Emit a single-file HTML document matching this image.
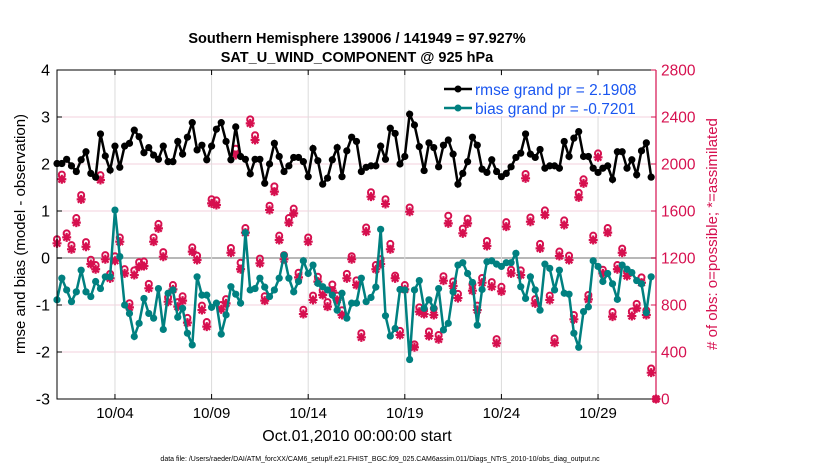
<!DOCTYPE html>
<html><head><meta charset="utf-8"><style>
body{margin:0;background:#fff;}
svg{display:block;font-family:"Liberation Sans",sans-serif;}
</style></head><body>
<svg id="chart" width="830" height="470" viewBox="0 0 830 470">
<rect x="0" y="0" width="830" height="470" fill="#fff"/>
<g id="grid"></g>
<g id="series"></g>
<g id="axes"></g>
<text x="357" y="43" text-anchor="middle" font-size="14.5" font-weight="bold">Southern Hemisphere 139006 / 141949 = 97.927%</text>
<text x="357" y="62" text-anchor="middle" font-size="14.5" font-weight="bold">SAT_U_WIND_COMPONENT @ 925 hPa</text>
<text transform="translate(25,234) rotate(-90)" text-anchor="middle" font-size="15">rmse and bias (model - observation)</text>
<text transform="translate(717,234) rotate(-90)" text-anchor="middle" font-size="15" fill="#d6104f"># of obs: o=possible; *=assimilated</text>
<text x="357" y="441" text-anchor="middle" font-size="16">Oct.01,2010 00:00:00 start</text>
<text x="380" y="461" text-anchor="middle" font-size="7">data file: /Users/raeder/DAI/ATM_forcXX/CAM6_setup/f.e21.FHIST_BGC.f09_025.CAM6assim.011/Diags_NTrS_2010-10/obs_diag_output.nc</text>
<g>
<rect x="440" y="76" width="214" height="40" fill="#fff"/>
<line x1="444" y1="89" x2="472" y2="89" stroke="#000" stroke-width="2.5"/>
<circle cx="458" cy="89" r="3.5" fill="#000"/>
<text x="475" y="95" font-size="15.5" fill="#1a56f0">rmse grand pr = 2.1908</text>
<line x1="444" y1="108" x2="472" y2="108" stroke="#008080" stroke-width="2.5"/>
<circle cx="458" cy="108" r="3.5" fill="#008080"/>
<text x="475" y="114" font-size="15.5" fill="#1a56f0">bias grand pr = -0.7201</text>
</g>
</svg>
<script>
const rmse=[2.01,2.01,2.10,1.96,1.84,2.09,2.26,1.80,1.72,2.64,2.17,1.87,2.38,1.93,2.38,2.44,2.72,2.58,2.24,2.35,2.19,2.10,2.38,2.05,2.05,2.48,2.21,2.57,2.88,2.30,2.40,2.09,
2.38,2.74,2.88,2.48,2.09,2.79,2.16,2.10,1.79,2.10,2.10,1.59,2.00,2.44,2.16,1.84,1.96,2.14,2.14,2.05,1.73,2.33,2.07,1.57,1.70,2.09,2.35,1.73,2.28,2.57,2.48,
1.84,1.93,1.96,1.96,2.38,2.10,2.76,2.65,2.00,2.16,3.06,2.83,2.37,1.86,2.45,2.35,1.94,2.40,2.51,2.21,1.57,1.80,2.05,2.57,2.40,1.89,1.82,2.09,1.84,1.73,1.80,
1.94,2.14,2.23,2.64,2.21,2.14,2.31,1.91,1.96,1.96,1.91,2.48,2.16,2.55,2.69,2.16,2.16,1.91,1.82,1.91,1.96,1.67,2.26,2.26,1.91,2.09,1.77,2.28,2.45,1.72];
const bias=[-0.89,-0.43,-0.68,-0.93,-0.72,-0.26,-0.72,-0.82,-0.50,-0.65,-0.40,-0.40,1.02,0.03,-1.00,-1.18,-1.67,-1.39,-0.86,-1.18,-1.28,-0.65,-1.52,-0.75,-0.68,-1.26,-1.07,-1.60,-1.85,-0.40,-0.79,-0.79,
-1.05,-0.96,-1.62,-1.21,-0.61,-0.77,-0.96,0.54,-0.68,-0.65,-0.43,-0.62,-0.82,-0.68,-0.43,0.06,-0.43,-0.72,-0.50,-0.06,-0.33,-0.15,-0.54,-0.61,-0.68,-0.79,-1.11,-0.75,-1.28,-0.96,-0.96,
-0.43,-0.93,-0.84,-0.62,0.61,-1.23,-1.66,-1.50,-0.67,-0.68,-2.16,-0.68,-0.48,-1.07,-0.89,-1.07,-0.65,-1.53,-1.39,-0.72,-0.15,-0.10,-0.33,-0.52,-1.43,-0.67,-0.08,-0.06,-0.13,-0.18,-0.10,
-0.10,0.10,-0.61,-0.86,-0.40,-0.68,-1.11,-0.13,-0.22,-0.68,-0.26,-0.75,-0.77,-1.60,-1.90,-1.14,-1.04,-0.06,-0.18,-0.50,-0.33,-0.55,-0.88,-0.15,-0.24,-0.31,-0.48,-0.55,-1.16,-0.40];
const obsAssim=[1325,1870,1376,1274,1501,1699,1296,1149,1104,1864,1189,1027,1177,1339,1069,780,1055,1126,1132,942,1339,1452,1211,828,933,786,837,650,1254,1183,757,616,
1665,1651,763,814,1245,2077,1104,1416,2346,2204,1155,837,1609,1765,1353,1189,1501,1580,1035,723,1339,843,999,885,786,922,843,715,1027,1189,970,
525,1424,1722,1104,1149,1660,1274,1027,545,933,1594,440,743,723,536,715,508,1007,1495,962,859,1410,1495,922,757,990,1302,956,474,916,1467,
1069,null,1055,1878,1509,814,1282,1566,843,479,1217,1481,1183,678,1716,1835,848,1353,2057,1069,1416,701,1104,1245,1047,706,772,990,715,224,0];
const obsPoss=[1360,1910,1410,1310,1540,1735,1335,1185,1140,1905,1225,1065,1215,1375,1105,815,1095,1165,1170,980,1375,1490,1250,865,970,825,875,690,1290,1220,795,655,
1700,1690,800,850,1285,2130,1160,1455,2380,2245,1195,875,1645,1810,1390,1225,1540,1620,1075,760,1375,880,1040,925,825,975,880,755,1065,1215,1010,
560,1460,1760,1140,1190,1700,1320,1050,580,970,1630,465,780,760,575,770,545,1045,1560,1000,895,1450,1535,975,795,1030,1345,995,510,955,1505,
1100,null,1095,1915,1545,850,1320,1605,880,515,1255,1520,1220,715,1755,1870,885,1390,2090,1100,1455,740,1140,1280,1085,745,810,1035,755,260,0];
const leftTicks=[4,3,2,1,0,-1,-2,-3];
const rightTicks=[0,400,800,1200,1600,2000,2400,2800];
const dateTickDays=[3,8,13,18,23,28];
const dateTickLabels=["10/04","10/09","10/14","10/19","10/24","10/29"];
const stepDays=0.25;

const X0=57,X1=656,Y0=399,Y1=70,DAYS=31;
const xs=t=>X0+(X1-X0)*t/DAYS;
const yl=v=>Y0+(Y1-Y0)*(v+3)/7;
const yr=c=>Y0+(Y1-Y0)*c/2800;
const NS="http://www.w3.org/2000/svg";
function mk(tag,attrs,parent){const e=document.createElementNS(NS,tag);for(const k in attrs)e.setAttribute(k,attrs[k]);parent.appendChild(e);return e;}
const grid=document.getElementById('grid'),ser=document.getElementById('series'),ax=document.getElementById('axes');
const PINK="#d6104f";

leftTicks.forEach(v=>{
  if(v===4||v===-3)return;
  const l=mk('line',{x1:X0,x2:X1,y1:yl(v),y2:yl(v),stroke:v===0?'#b8b8b8':'#f3d2de','stroke-width':v===0?2:1},grid);
  
  
});
dateTickDays.forEach((d,i)=>{
  const l=mk('line',{x1:xs(d),x2:xs(d),y1:Y1,y2:Y0,stroke:'#dcdcdc','stroke-width':1},grid);
  
  
  const tk=mk('line',{x1:xs(d),x2:xs(d),y1:Y0,y2:Y0-5,stroke:'#000'},ax);
  
  
  const tk2=mk('line',{x1:xs(d),x2:xs(d),y1:Y1,y2:Y1+5,stroke:'#000'},ax);
  
  
  const t=mk('text',{x:xs(d),y:418,'text-anchor':'middle','font-size':15},ax);
  t.textContent=dateTickLabels[i];
  
  
});

function linePath(arr,sc){let d='';arr.forEach((v,i)=>{if(v==null)return;d+=(d?'L':'M')+xs(i*stepDays).toFixed(1)+','+sc(v).toFixed(1);});return d;}

obsPoss.forEach((c,i)=>{
  if(c==null)return;
  const m=mk('circle',{cx:xs(i*stepDays),cy:yr(c),r:3,fill:'none',stroke:PINK,'stroke-width':2},ser);
  
  
});
obsAssim.forEach((c,i)=>{
  if(c==null)return;
  const x=xs(i*stepDays),y=yr(c),s=4.5,s2=3.3;
  const p=mk('path',{d:`M${x-s},${y}L${x+s},${y}M${x},${y-s}L${x},${y+s}M${x-s2},${y-s2}L${x+s2},${y+s2}M${x-s2},${y+s2}L${x+s2},${y-s2}`,stroke:PINK,'stroke-width':2.2},ser);
  
  
});

const rl=mk('path',{d:linePath(rmse,yl),fill:'none',stroke:'#000','stroke-width':2.5},ser);


rmse.forEach((v,i)=>{
  const c=mk('circle',{cx:xs(i*stepDays),cy:yl(v),r:3.6,fill:'#000'},ser);
  
  
});
const bl=mk('path',{d:linePath(bias,yl),fill:'none',stroke:'#008080','stroke-width':2.5},ser);


bias.forEach((v,i)=>{
  const c=mk('circle',{cx:xs(i*stepDays),cy:yl(v),r:3.6,fill:'#008080'},ser);
  
  
});

const fr=mk('path',{d:`M${X1},${Y1}L${X0},${Y1}L${X0},${Y0}L${X1},${Y0}`,fill:'none',stroke:'#000','stroke-width':1},ax);


const ra=mk('line',{x1:X1,x2:X1,y1:Y1,y2:Y0,stroke:PINK,'stroke-width':1.2},ax);


leftTicks.forEach(v=>{
  const tk=mk('line',{x1:X0,x2:X0+5,y1:yl(v),y2:yl(v),stroke:'#000'},ax);
  
  
  const t=mk('text',{x:X0-7,y:yl(v)+5.5,'text-anchor':'end','font-size':16},ax);
  t.textContent=v;
  
  
});
rightTicks.forEach(c=>{
  const tk=mk('line',{x1:X1,x2:X1-5,y1:yr(c),y2:yr(c),stroke:PINK},ax);
  
  
  const t=mk('text',{x:X1+5,y:yr(c)+5.5,'text-anchor':'start','font-size':15.5,fill:PINK},ax);
  t.textContent=c;
  
  
});
</script>
</body></html>
